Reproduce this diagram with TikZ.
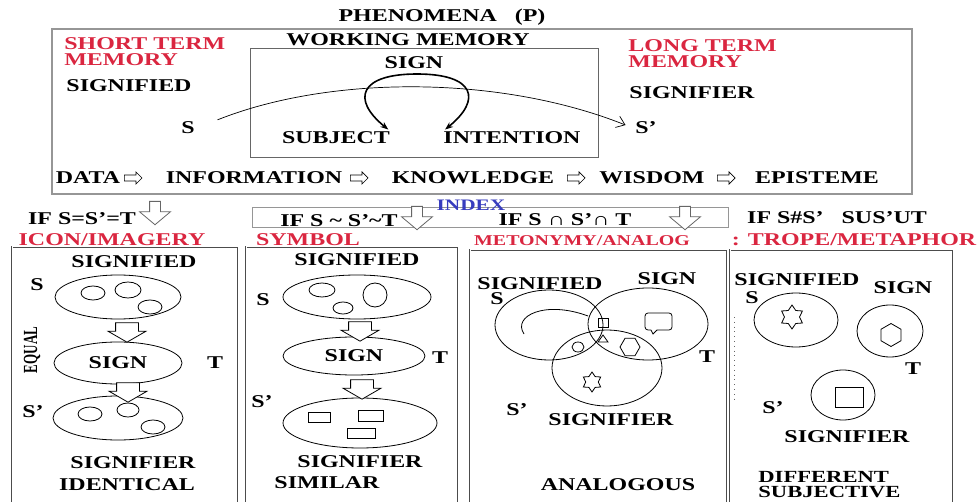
\documentclass[tikz,border=0pt]{standalone}
\usepackage{fontspec}
\setmainfont[FakeStretch=1.33]{Liberation Serif}
\newfontfamily\narrowserif[FakeStretch=0.65]{Liberation Serif}
\usepackage{tikz}
\usetikzlibrary{arrows.meta,positioning,shapes.geometric,shapes.arrows}
\definecolor{TermRed}{RGB}{218, 38, 64}
\definecolor{IndexBlue}{RGB}{55, 60, 190}
\definecolor{FrameGray}{RGB}{150, 150, 150}

\begin{document}
\begin{tikzpicture}[
    x=0.5pt, y=-0.5pt,
    every node/.style={font=\bfseries\fontsize{9}{8}\selectfont, inner sep=1pt},
    term/.style={text=TermRed, align=left},
    frame/.style={draw=FrameGray, line width=0.6pt},
    panel/.style={draw=black!70, double=white, double distance=0.5pt, line width=0.45pt},
    oval/.style={draw, ellipse, inner sep=0pt},
    blockdown/.style={draw, fill=white, single arrow, rotate=-90, single arrow tip angle=120, single arrow head extend=3.75pt, inner xsep=3pt, inner ysep=5.5pt, line width=0.4pt},
    bigdown/.style={blockdown, draw=black!60, single arrow tip angle=100, single arrow head extend=5pt, inner xsep=4.5pt, inner ysep=2.5pt},
    flow/.style={draw, single arrow, single arrow head extend=1.5pt, inner xsep=3.5pt, inner ysep=1.3pt, line width=0.35pt},
    arr/.style={-{Straight Barb[length=4pt, width=6pt]}, line width=0.35pt},
    loopline/.style={{Stealth[length=4pt, width=3pt]}-{Stealth[length=4pt, width=3pt]}, line width=0.8pt}
]
    \useasboundingbox (0,0) rectangle (980,502);

    % phenomena box
    \node (phen) at (442,17) {PHENOMENA\quad(P)};
    \draw[frame] (52,29) rectangle (912,194);
    \node[term, anchor=north west] (stm) at (62,35) {SHORT TERM\\MEMORY};
    \node (wm) at (408,40) {WORKING MEMORY};
    \draw[black!60, line width=0.5pt] (250,49) rectangle (598,158);
    \node (sign) at (414,63) {SIGN};
    \node (sfd) at (129,86) {SIGNIFIED};
    \node (s) at (188,128) {S};
    \node (subj) at (336,138) {SUBJECT};
    \node (intent) at (512,138) {INTENTION};
    \node[term, anchor=north west] (ltm) at (626,37) {LONG TERM\\MEMORY};
    \node (sfr) at (692,93) {SIGNIFIER};
    \node (sp) at (646,128) {S'};

    \draw[arr, shorten <=11pt, shorten >=4pt] (s.east) .. controls (330,75) and (500,75) .. (sp.west);
    \draw[loopline] ([xshift=-2pt]subj.north east) .. controls +(-37,-30) and +(-58,0) .. (417,74)
        .. controls +(58,0) and +(37,-30) .. ([xshift=2pt]intent.north west);

    \node (data) at (88,178) {DATA};
    \node[flow, anchor=tail] (f1) at (124,178) {};
    \node (info) at (254,178) {INFORMATION};
    \node[flow, anchor=tail] (f2) at (350,178) {};
    \node (know) at (473,178) {KNOWLEDGE};
    \node[flow, anchor=tail] (f3) at (567,178) {};
    \node (wis) at (652,178) {WISDOM};
    \node[flow, anchor=tail] (f4) at (717,178) {};
    \node (epi) at (817,178) {EPISTEME};

    % index bar and conditions
    \draw[frame, line width=0.5pt] (252,208) rectangle (728,228);
    \node[text=IndexBlue, font=\bfseries\fontsize{8}{8}\selectfont] (index) at (471,205) {INDEX};
    \node (if1) at (82,219) {IF S=S'=T};
    \node (if2) at (339,221) {IF S \textasciitilde{} S'\textasciitilde T};
    \node (if3) at (565,220) {IF S ∩ S'∩ T};
    \node (if4) at (837,218) {IF S\#S'\quad SUS'UT};
    \node[bigdown, anchor=tail] (d1) at (155,201) {};
    \node[bigdown, anchor=tail] (d2) at (417,206) {};
    \node[bigdown, anchor=tail] (d3) at (685,206) {};

    \node[term] (icon) at (112,240) {ICON/IMAGERY};
    \node[term] (symb) at (308,240) {SYMBOL};
    \node[term, font=\bfseries\fontsize{7.5}{8}\selectfont] (meto) at (582,241) {METONYMY/ANALOG};
    \node[term] (trope) at (854,240) {: TROPE/METAPHOR};

    \draw[panel] (12,502) -- (12,247) -- (238,247) -- (238,502);
    \draw[panel] (246,502) -- (246,247) -- (458,247) -- (458,502);
    \draw[panel] (470,502) -- (470,250) -- (727,250) -- (727,502);
    \draw[panel] (730,502) -- (730,250) -- (953,250) -- (953,502);
    \draw[dotted, black!60] (734,317) -- (734,400);

    % icon
    \node (p1sfd) at (134,262) {SIGNIFIED};
    \node (p1s) at (37,285) {S};
    \node[oval, minimum width=63pt, minimum height=22pt] (p1a) at (118,297) {};
    \draw (93,293) ellipse [x radius=12, y radius=7];
    \draw (128,290) ellipse [x radius=13, y radius=8];
    \draw (150,307) ellipse [x radius=12, y radius=7];
    \node[oval, minimum width=64pt, minimum height=21pt] (p1b) at (118,363) {SIGN};
    \node (p1t) at (215,363) {T};
    \node[font=\narrowserif\bfseries\fontsize{10}{10}\selectfont, rotate=90] (p1eq) at (32,350) {EQUAL};
    \node (p1sp) at (33,412) {S'};
    \node[oval, minimum width=65pt, minimum height=22pt] (p1c) at (118,418) {};
    \draw (90,414) ellipse [x radius=12, y radius=7];
    \draw (128,410) ellipse [x radius=11, y radius=7];
    \draw (153,427) ellipse [x radius=12, y radius=7];
    \node[blockdown, anchor=tail] (p1d1) at ([xshift=4.5pt, yshift=-1.5pt]p1a.south) {};
    \node[blockdown, anchor=tail] (p1d2) at ([xshift=5pt, yshift=1pt]p1b.south) {};
    \node (p1sfr) at (133,463) {SIGNIFIER};
    \node (p1id) at (127,485) {IDENTICAL};

    % symbol
    \node (p2sfd) at (357,260) {SIGNIFIED};
    \node (p2s) at (263,300) {S};
    \node[oval, minimum width=74pt, minimum height=22pt] (p2a) at (357,297) {};
    \draw (322,290) ellipse [x radius=13, y radius=7];
    \draw (375,295) ellipse [x radius=12, y radius=12];
    \draw (343,308) ellipse [x radius=10, y radius=6];
    \node[oval, minimum width=71pt, minimum height=19pt] (p2b) at (354,356) {SIGN};
    \node (p2t) at (440,358) {T};
    \node (p2sp) at (262,402) {S'};
    \node[oval, minimum width=77pt, minimum height=25pt] (p2c) at (360,423) {};
    \draw (308,412) rectangle (330,422);
    \draw (358,410) rectangle (383,421);
    \draw (347,428) rectangle (375,438);
    \node[blockdown, anchor=tail] (p2d1) at ([xshift=1.5pt, yshift=-1pt]p2a.south) {};
    \node[blockdown, anchor=tail] (p2d2) at ([xshift=4pt, yshift=-2pt]p2b.south) {};
    \node (p2sfr) at (360,462) {SIGNIFIER};
    \node (p2sim) at (327,483) {SIMILAR};

    % metonymy
    \node[oval, minimum width=54pt, minimum height=35pt] (p3a) at (549,325) {};
    \node[oval, minimum width=60pt, minimum height=36pt] (p3b) at (648,324) {};
    \node[oval, minimum width=55pt, minimum height=38pt] (p3c) at (607,368) {};
    \node (p3sfd) at (540,284) {SIGNIFIED};
    \node (p3s) at (497,299) {S};
    \node (p3sign) at (667,279) {SIGN};
    \node (p3t) at (707,357) {T};
    \node (p3sp) at (517,410) {S'};
    \node (p3sfr) at (611,420) {SIGNIFIER};
    \node (p3an) at (618,485) {ANALOGOUS};
    \draw (588,316) .. controls (545,300) and (512,316) .. (524,334);
    \draw (598,318) rectangle (608,327);
    \draw (598,342) -- (603,335) -- (608,342) -- cycle;
    \draw (578,347) ellipse [x radius=6, y radius=5];
    \draw[rounded corners=1.5pt] (651,330) -- (645,330) -- (645,313) -- (672,313) -- (672,330) -- (657,330);
    \draw (651,330) -- (653,334) -- (657,330);
    \node[draw, regular polygon, regular polygon sides=6, minimum size=10pt, inner sep=0pt] (p3hex) at (630,347) {};
    \node[draw, star, star points=6, star point ratio=1.6, minimum size=10pt, inner sep=0pt] (p3star) at (592,382) {};

    % trope
    \node (p4sfd) at (797,280) {SIGNIFIED};
    \node (p4s) at (752,298) {S};
    \node[oval, minimum width=42pt, minimum height=27pt] (p4a) at (796,320) {};
    \node[draw, star, star points=6, star point ratio=1.6, minimum size=12pt, inner sep=0pt] (p4star) at (792,317) {};
    \node (p4sign) at (903,288) {SIGN};
    \node[oval, minimum width=33pt, minimum height=26pt] (p4b) at (890,331) {};
    \node[draw, regular polygon, regular polygon sides=6, shape border rotate=30, minimum size=11.5pt, inner sep=0pt] (p4hex) at (891,335) {};
    \node (p4t) at (913,369) {T};
    \node[oval, minimum width=32pt, minimum height=25pt] (p4c) at (843,395) {};
    \draw (835,387) rectangle (863,407);
    \node (p4sp) at (773,408) {S'};
    \node (p4sfr) at (847,437) {SIGNIFIER};
    \node[align=left, anchor=north west, font=\bfseries\fontsize{8.5}{7.5}\selectfont] (p4diff) at (756,469) {DIFFERENT\\SUBJECTIVE};
\end{tikzpicture}
\end{document}
